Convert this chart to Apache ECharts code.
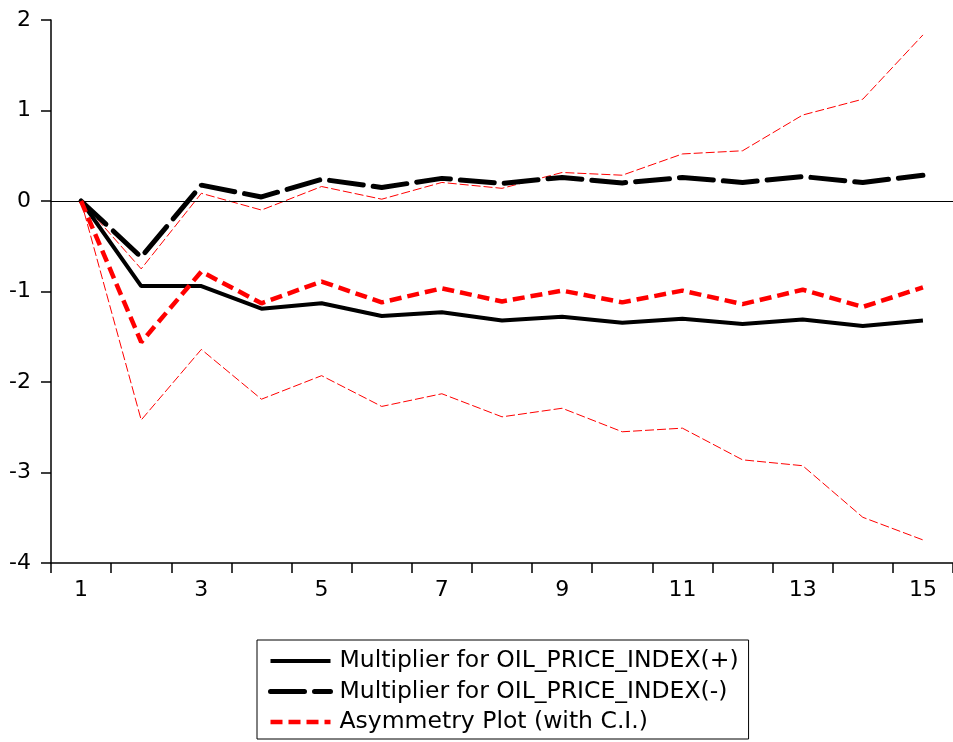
<!DOCTYPE html>
<html>
<head>
<meta charset="utf-8">
<style>
  html, body { margin: 0; padding: 0; background: #fff; }
  #chart { width: 953px; height: 742px; }
</style>
<script src="https://cdn.jsdelivr.net/npm/echarts@6/dist/echarts.min.js"></script>
</head>
<body>
<div id="chart"></div>
<script>
// Horizons (periods after the shock)
const periods = ['1','2','3','4','5','6','7','8','9','10','11','12','13','14','15'];

// Cumulative dynamic multipliers
const multPositive = [0, -0.94, -0.94, -1.19, -1.13, -1.27, -1.23, -1.32, -1.28, -1.345, -1.30, -1.36, -1.31, -1.38, -1.32];
const multNegative = [0, -0.62, 0.175, 0.045, 0.24, 0.15, 0.25, 0.195, 0.26, 0.20, 0.26, 0.205, 0.27, 0.205, 0.285];

// Asymmetry (difference) and its confidence band
const asymmetry = [0, -1.56, -0.78, -1.13, -0.89, -1.12, -0.965, -1.11, -0.99, -1.12, -0.99, -1.14, -0.98, -1.17, -0.955];
const ciUpper = [0, -0.75, 0.085, -0.10, 0.16, 0.02, 0.205, 0.14, 0.315, 0.285, 0.52, 0.555, 0.95, 1.125, 1.835];
const ciLower = [0, -2.42, -1.64, -2.19, -1.93, -2.27, -2.13, -2.385, -2.29, -2.55, -2.51, -2.86, -2.925, -3.495, -3.745];

const FONT = '"DejaVu Sans", sans-serif';
const chart = echarts.init(document.getElementById('chart'), null, { renderer: 'canvas' });

const styles = {
  pos: { color: '#000', width: 4, type: 'solid' },
  neg: { color: '#000', width: 5, type: [34, 10], cap: 'round' },
  asym: { color: '#ff0000', width: 4.5, type: [12, 6] },
  band: { color: '#ff0000', width: 1, type: [9, 3] }
};

chart.setOption({
  animation: false,
  backgroundColor: '#ffffff',
  grid: { left: 51, top: 20, width: 903, height: 543, containLabel: false },
  xAxis: {
    type: 'category',
    data: periods,
    boundaryGap: true,
    axisLine: { show: true, onZero: false, lineStyle: { color: '#000', width: 1.5 } },
    axisTick: { show: true, interval: 0, length: 10, inside: false, lineStyle: { color: '#000', width: 1.5 } },
    axisLabel: { interval: 1, color: '#000', fontSize: 22, fontFamily: FONT, margin: 16 },
    splitLine: { show: false }
  },
  yAxis: {
    type: 'value',
    min: -4, max: 2, interval: 1,
    axisLine: { show: true, lineStyle: { color: '#000', width: 1.5 } },
    axisTick: { show: true, length: 10, inside: false, lineStyle: { color: '#000', width: 1.5 } },
    axisLabel: { color: '#000', fontSize: 22, fontFamily: FONT, margin: 20 },
    splitLine: { show: false }
  },
  legend: {
    data: [
      { name: 'Multiplier for OIL_PRICE_INDEX(+)', lineStyle: { width: styles.pos.width } },
      { name: 'Multiplier for OIL_PRICE_INDEX(-)', lineStyle: { width: styles.neg.width } },
      { name: 'Asymmetry Plot (with C.I.)', lineStyle: { width: styles.asym.width } }
    ],
    orient: 'vertical',
    left: 257,
    top: 640,
    height: 120,
    padding: [9, 10, 5, 11],
    itemWidth: 60,
    itemHeight: 20,
    itemGap: 6.5,
    borderColor: '#000',
    borderWidth: 1,
    itemStyle: { opacity: 0 },
    textStyle: { color: '#000', fontSize: 23.5, fontFamily: FONT, padding: [0, 0, 0, 4] },
    selectedMode: false
  },
  series: [
    {
      name: 'Upper bound',
      type: 'line',
      data: ciUpper,
      symbol: 'none',
      z: 2,
      lineStyle: styles.band
    },
    {
      name: 'Lower bound',
      type: 'line',
      data: ciLower,
      symbol: 'none',
      z: 2,
      lineStyle: styles.band
    },
    {
      name: 'Multiplier for OIL_PRICE_INDEX(+)',
      type: 'line',
      data: multPositive,
      symbol: 'none',
      z: 3,
      itemStyle: { color: '#000' },
      lineStyle: styles.pos,
      markLine: {
        silent: true,
        symbol: 'none',
        label: { show: false },
        lineStyle: { color: '#000', width: 1, type: 'solid' },
        data: [{ yAxis: 0 }]
      }
    },
    {
      name: 'Multiplier for OIL_PRICE_INDEX(-)',
      type: 'line',
      data: multNegative,
      symbol: 'none',
      z: 4,
      itemStyle: { color: '#000' },
      lineStyle: styles.neg
    },
    {
      name: 'Asymmetry Plot (with C.I.)',
      type: 'line',
      data: asymmetry,
      symbol: 'none',
      z: 5,
      itemStyle: { color: '#ff0000' },
      lineStyle: styles.asym
    }
  ]
});
</script>
</body>
</html>
